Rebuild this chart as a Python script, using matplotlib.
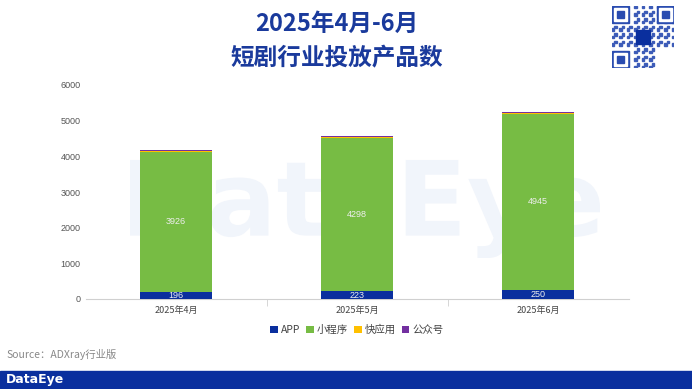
import matplotlib.pyplot as plt
import numpy as np
from matplotlib.patches import Rectangle, PathPatch
from matplotlib.textpath import TextPath
from matplotlib.font_manager import FontProperties
from matplotlib.transforms import Affine2D

plt.rcParams['font.family'] = ['Noto Sans CJK SC', 'DejaVu Sans']

# --- datos ---
meses = ['2025年4月', '2025年5月', '2025年6月']
app = [196, 223, 250]
mini = [3926, 4298, 4945]
kuai = [25, 25, 25]
gzh = [30, 30, 30]
series = ['APP', '小程序', '快应用', '公众号']
colores = ['#0a2f9e', '#77bc44', '#ffc000', '#7330a0']

fig = plt.figure(figsize=(6.92, 3.89), dpi=100)

# marca de agua como figura (detrás de todo)
tp = TextPath((0, 0), 'DataEye', size=100, prop=FontProperties(family='DejaVu Sans', weight='bold'))
bb = tp.get_extents()
escala = 470 / bb.width
trans = Affine2D().translate(-bb.x0, -bb.y0).scale(escala).translate(130, 389 - 258)
fig.patches.append(PathPatch(trans.transform_path(tp), facecolor='#f1f5fb', edgecolor='none',
                             transform=None, zorder=-5))

ax = fig.add_axes([85.5 / 692, 1 - 299 / 389, (628.5 - 85.5) / 692, (299 - 85) / 389])
ax.set_facecolor('none')

x = np.arange(len(meses))
base = np.zeros(len(meses))
for nombre, vals, col in zip(series, [app, mini, kuai, gzh], colores):
    ax.bar(x, vals, 0.4, bottom=base, color=col, label=nombre, zorder=3)
    if nombre in ('APP', '小程序'):
        for xi, b, v in zip(x, base, vals):
            ax.text(xi, b + v / 2, str(v), ha='center', va='center', fontsize=6.5,
                    color='#eeeeee', zorder=4, family='Liberation Sans')
    base = base + np.array(vals)

ax.set_xlim(-0.5, 2.5)
ax.set_ylim(0, 6000)
ax.set_yticks(range(0, 6001, 1000))
ax.set_xticks(x)
ax.set_xticklabels(meses)
ax.set_xticks([0.5, 1.5], minor=True)
ax.tick_params(axis='x', which='major', length=0, labelsize=6.5, colors='#444444', pad=5)
ax.tick_params(axis='x', which='minor', length=5, color='#d0d0d0')
ax.tick_params(axis='y', length=0, labelsize=6.5, colors='#555555')
for lab in ax.get_yticklabels():
    lab.set_family('Liberation Sans')
for s in ['top', 'right', 'left']:
    ax.spines[s].set_visible(False)
ax.spines['bottom'].set_color('#d0d0d0')

ax.legend(loc='upper center', bbox_to_anchor=(0.5, -0.075), ncol=4, frameon=False,
          fontsize=7.5, handlelength=0.7, handleheight=0.7, handletextpad=0.3,
          columnspacing=0.6, labelcolor='#444444')

# título
fig.text(337 / 692, 1 - 24 / 389, '2025年4月-6月', ha='center', va='center',
         fontsize=17, fontweight='bold', color='#1a3a9c')
fig.text(337 / 692, 1 - 58 / 389, '短剧行业投放产品数', ha='center', va='center',
         fontsize=17, fontweight='bold', color='#1a3a9c')

# fuente y banda inferior
fig.text(6 / 692, 1 - 354 / 389, 'Source：ADXray行业版', ha='left', va='center',
         fontsize=7.5, color='#888888')
fig.patches.append(Rectangle((0, 0), 1, 18 / 389, transform=fig.transFigure,
                             color='#0a2f9e', zorder=1))
fig.text(6 / 692, 9 / 389, 'DataEye', ha='left', va='center', fontsize=9,
         color='white', fontweight='bold', family='DejaVu Sans')

# código QR simplificado
qr = fig.add_axes([612 / 692, 1 - 68 / 389, 62 / 692, 62 / 389])
qr.set_xlim(0, 25)
qr.set_ylim(0, 25)
qr.axis('off')
celdas = [(r, c) for r in range(25) for c in range(25) if (r * 7 + c * 13 + r * c) % 3 == 0]
for r, c in celdas:
    if (r < 8 and c < 8) or (r < 8 and c > 16) or (r > 16 and c < 8):
        continue
    qr.add_patch(Rectangle((c, r), 1, 1, color='#3d5cb8'))
for ox, oy in [(0, 18), (18, 18), (0, 0)]:
    qr.add_patch(Rectangle((ox, oy), 7, 7, color='#2a4cb0'))
    qr.add_patch(Rectangle((ox + 1, oy + 1), 5, 5, color='white'))
    qr.add_patch(Rectangle((ox + 2, oy + 2), 3, 3, color='#2a4cb0'))
qr.add_patch(Rectangle((9.5, 9.5), 6, 6, color='#0a2f9e'))

fig.savefig('out.png', dpi=100)
